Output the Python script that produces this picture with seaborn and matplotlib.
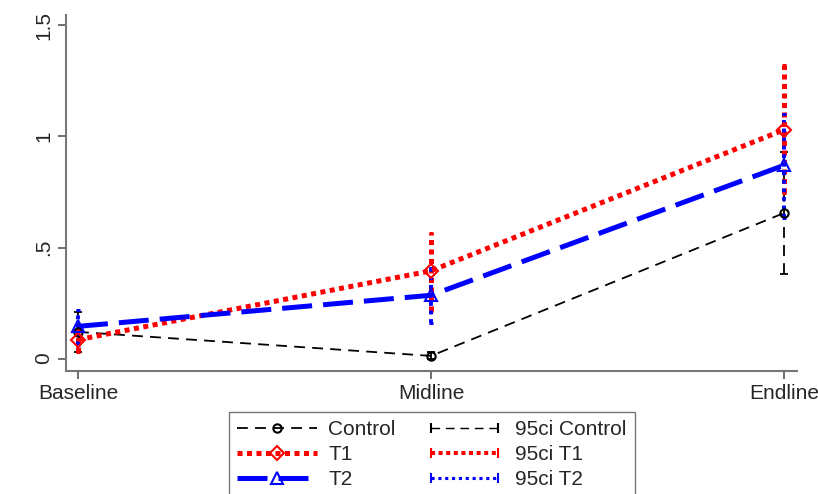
import numpy as np
import pandas as pd
import matplotlib
matplotlib.use("Agg")
import matplotlib.pyplot as plt
from matplotlib.lines import Line2D
from matplotlib.legend_handler import HandlerLine2D
import seaborn as sns

# values
waves = ['Baseline', 'Midline', 'Endline']
control = [0.12, 0.012, 0.655]
control_lo = [0.03, -0.004, 0.38]
control_hi = [0.21, 0.028, 0.93]
t1 = [0.085, 0.395, 1.03]
t1_lo = [0.03, 0.215, 0.745]
t1_hi = [0.14, 0.565, 1.32]
t2 = [0.145, 0.285, 0.87]
t2_lo = [0.06, 0.16, 0.635]
t2_hi = [0.22, 0.41, 1.10]

sns.set_style('white')
plt.rcParams['font.family'] = ['Liberation Sans', 'DejaVu Sans']

x = np.arange(len(waves))
df = pd.DataFrame({
    'wave': np.tile(x, 3),
    'mean': control + t1 + t2,
    'lo': control_lo + t1_lo + t2_lo,
    'hi': control_hi + t1_hi + t2_hi,
    'group': ['Control'] * 3 + ['T1'] * 3 + ['T2'] * 3,
})

styles = {
    'Control': dict(color='black', lw=1.3, dashes=(6, 4), marker='o', ms=6),
    'T1': dict(color='#ff0000', lw=3.6, dashes=(1, 0.9), marker='D', ms=7),
    'T2': dict(color='#0000ff', lw=3.6, dashes=(6, 2.2), marker='^', ms=8),
}
ci_styles = {
    'Control': dict(color='black', lw=1.3, dashes=(6, 4), cap=8),
    'T1': dict(color='#ff0000', lw=3.6, dashes=(1, 0.9), cap=4),
    'T2': dict(color='#0000ff', lw=2.8, dashes=(1, 1.2), cap=4),
}

fig = plt.figure(figsize=(8.18, 4.94), dpi=100)
ax = fig.add_axes([66 / 818, 1 - 371 / 494, (797 - 66) / 818, (371 - 15) / 494])

handles = []
ci_handles = []
for g in ['Control', 'T1', 'T2']:
    sub = df[df['group'] == g]
    s = styles[g]
    sns.lineplot(data=sub, x='wave', y='mean', ax=ax, color=s['color'],
                 linewidth=s['lw'], dashes=False, legend=False, zorder=3)
    ax.lines[-1].set_dashes(s['dashes'])
    ax.plot(sub['wave'], sub['mean'], linestyle='none', marker=s['marker'],
            ms=s['ms'], mfc='none', mec=s['color'], mew=1.5, zorder=4)
    handles.append(Line2D([], [], color=s['color'], lw=s['lw'], dashes=s['dashes'],
                          marker=s['marker'], ms=s['ms'], mfc='none', mec=s['color'],
                          mew=1.5, label=g))

for g in ['Control', 'T1', 'T2']:
    sub = df[df['group'] == g]
    c = ci_styles[g]
    ax.vlines(sub['wave'], sub['lo'], sub['hi'], colors=c['color'], linewidth=c['lw'],
              linestyles=[(0, c['dashes'])], zorder=2)
    half = c['cap'] / 353 / 2
    ax.hlines(list(sub['lo']) + list(sub['hi']),
              list(sub['wave'] - half) * 2, list(sub['wave'] + half) * 2,
              colors=c['color'], linewidth=min(c['lw'], 2.2), zorder=2)
    ci_handles.append(Line2D([], [], color=c['color'], lw=c['lw'] * 0.8, dashes=c['dashes'],
                             marker='|', ms=7, mew=1.5, label='95ci ' + g))

ax.set_xlim(-0.034, 2.037)
ax.set_ylim(-0.056, 1.547)
ax.set_xticks(x)
ax.set_xticklabels(waves, fontsize=15)
ax.set_yticks([0, 0.5, 1, 1.5])
ax.set_yticklabels(['0', '.5', '1', '1.5'], fontsize=15, rotation=90, va='center')
ax.set_xlabel('')
ax.set_ylabel('')
for side in ['top', 'right']:
    ax.spines[side].set_visible(False)
for side in ['left', 'bottom']:
    ax.spines[side].set_color('#777777')
    ax.spines[side].set_linewidth(1.5)
ax.tick_params(axis='both', direction='out', length=6, width=1.2, color='#555555',
               left=True, bottom=True, pad=3)

# matplotlib fills legend columns first
order = handles + ci_handles
hmap = {h: HandlerLine2D(numpoints=2) for h in ci_handles}
leg = fig.legend(handles=order, labels=[h.get_label() for h in order], ncol=2,
                 loc='upper center', bbox_to_anchor=(432 / 818, 1 - 412 / 494),
                 borderaxespad=0, fontsize=15, frameon=True, fancybox=False,
                 edgecolor='#555555', handlelength=3.8, handletextpad=0.55,
                 columnspacing=1.4, labelspacing=0.28, borderpad=0.4, handler_map=hmap)
leg.get_frame().set_linewidth(1.0)

fig.savefig('out.png', dpi=100, facecolor='white')
